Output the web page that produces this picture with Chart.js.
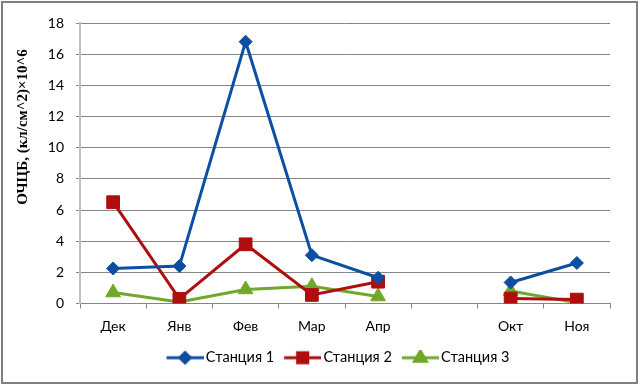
<!DOCTYPE html>
<html>
<head>
<meta charset="utf-8">
<script src="https://cdn.jsdelivr.net/npm/chart.js@4"></script>
<style>
  html, body { margin: 0; padding: 0; background: #fff; }
  #wrap { position: relative; width: 640px; height: 387px; }
</style>
</head>
<body>
<div id="wrap"><canvas id="chart" width="640" height="387"></canvas></div>
<script>
const months = ['Дек', 'Янв', 'Фев', 'Мар', 'Апр', '', 'Окт', 'Ноя'];
const station1 = [2.25, 2.4, 16.8, 3.1, 1.65, null, 1.35, 2.6];
const station2 = [6.5, 0.3, 3.8, 0.55, 1.4, null, 0.32, 0.25];
const station3 = [0.7, 0.1, 0.9, 1.1, 0.45, null, 0.8, 0.05];
const seriesNames = ['Станция 1', 'Станция 2', 'Станция 3'];
const yTitle = 'ОЧЦБ, (кл/см^2)×10^6';

const colors = ['#0B4EA2', '#B00E0E', '#70A82A'];
const markers = ['rectRot', 'rect', 'triangle'];
const markerSizes = [6.5, 9, 8.5];

const gridColor = '#868686';
const tickFont = { family: 'Lato', size: 14 };

// small picture of line + marker for the legend
function legendImage(i) {
  const c = document.createElement('canvas');
  c.width = 42;
  c.height = 16;
  const g = c.getContext('2d');
  g.strokeStyle = colors[i];
  g.fillStyle = colors[i];
  g.lineWidth = 3;
  g.beginPath();
  g.moveTo(5, 8);
  g.lineTo(42, 8);
  g.stroke();
  Chart.helpers.drawPoint(g, { pointStyle: markers[i], radius: markerSizes[i] * 0.8, borderWidth: 1 }, 23.5, 8);
  g.fill();
  return c;
}

// white background and the grey frame
const framePlugin = {
  id: 'frame',
  beforeDraw(chart) {
    const ctx = chart.ctx;
    ctx.save();
    ctx.fillStyle = '#fff';
    ctx.fillRect(0, 0, chart.width, chart.height);
    ctx.strokeStyle = '#7f7f7f';
    ctx.lineWidth = 2;
    ctx.strokeRect(2, 2, 635, 381);
    ctx.restore();
  }
};

// rotated y axis title
const yTitlePlugin = {
  id: 'ytitle',
  afterDraw(chart) {
    const ctx = chart.ctx;
    ctx.save();
    ctx.translate(23, 127);
    ctx.rotate(-Math.PI / 2);
    ctx.font = 'bold 15px "Liberation Serif"';
    ctx.fillStyle = '#000';
    ctx.textAlign = 'center';
    ctx.textBaseline = 'middle';
    ctx.fillText(yTitle, 0, 0);
    ctx.restore();
  }
};

// the legend sits a bit right of the canvas centre
const legendShift = {
  id: 'legendShift',
  afterLayout(chart) {
    chart.legend.left += 33;
    chart.legend.right += 33;
  }
};

const datasets = [station1, station2, station3].map((data, i) => ({
  label: seriesNames[i],
  data: data,
  borderColor: colors[i],
  backgroundColor: colors[i],
  borderWidth: 3,
  pointStyle: markers[i],
  pointRadius: markerSizes[i],
  pointHoverRadius: markerSizes[i],
  pointBorderWidth: 1,
  tension: 0
}));

new Chart(document.getElementById('chart'), {
  type: 'line',
  data: { labels: months, datasets: datasets },
  plugins: [framePlugin, yTitlePlugin, legendShift],
  options: {
    responsive: false,
    animation: false,
    layout: { padding: { top: 23, right: 30, bottom: 12, left: 0 } },
    plugins: {
      tooltip: { enabled: false },
      legend: {
        position: 'bottom',
        labels: {
          usePointStyle: true,
          pointStyleWidth: 32,
          padding: 10,
          color: '#000',
          font: { family: 'Lato', size: 14.5 },
          generateLabels(chart) {
            return chart.data.datasets.map((ds, i) => ({
              text: ds.label,
              pointStyle: legendImage(i),
              fillStyle: colors[i],
              strokeStyle: colors[i],
              lineWidth: 0,
              hidden: false,
              datasetIndex: i
            }));
          }
        }
      }
    },
    scales: {
      x: {
        offset: true,
        afterFit(scale) { scale.height = 37; },
        grid: {
          offset: true,
          drawOnChartArea: false,
          drawTicks: true,
          tickLength: 5,
          color: gridColor
        },
        border: { color: gridColor, width: 1 },
        ticks: { color: '#000', font: tickFont, padding: 10, maxRotation: 0, autoSkip: false }
      },
      y: {
        min: 0,
        max: 18,
        afterFit(scale) { scale.width = 80; },
        grid: { color: gridColor, tickLength: 4 },
        border: { color: '#c0c0c0', width: 2 },
        ticks: { stepSize: 2, color: '#000', font: tickFont, padding: 12 }
      }
    }
  }
});
</script>
</body>
</html>
